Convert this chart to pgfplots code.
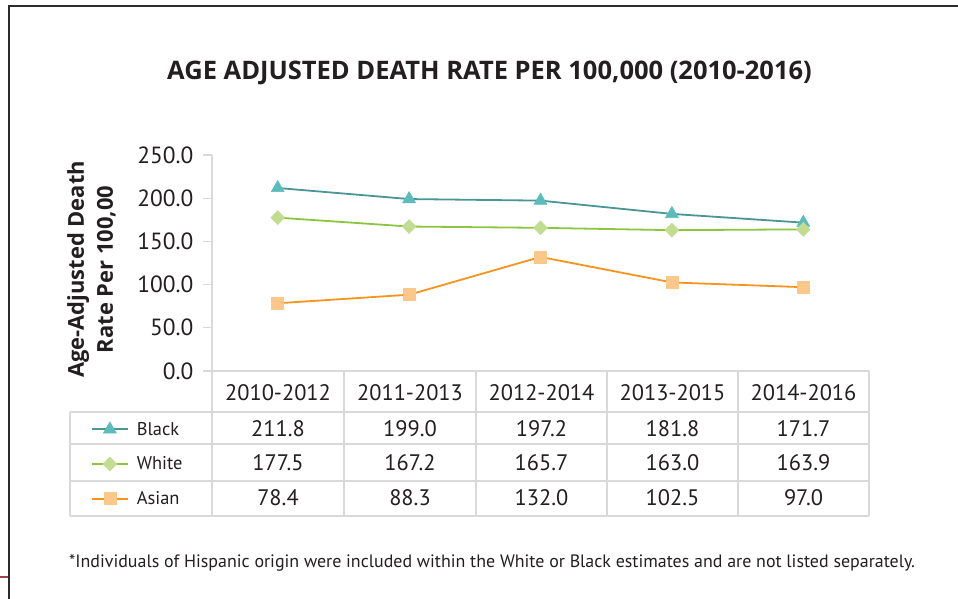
\documentclass[border=0pt]{standalone}
\usepackage{pgfplots}
\pgfplotsset{compat=1.18}
\usepackage{fontspec}
\setmainfont{PT Sans}
\newfontfamily\boldfont{Open Sans}[BoldFont={* Bold}]
\definecolor{tealL}{HTML}{4A9595}
\definecolor{tealM}{HTML}{5BBCBC}
\definecolor{greenL}{HTML}{8CC63F}
\definecolor{greenM}{HTML}{C2DD90}
\definecolor{orL}{HTML}{F7941D}
\definecolor{orM}{HTML}{FBC88A}
\definecolor{gridc}{HTML}{D9D9D9}
\definecolor{txt}{HTML}{231F20}
\definecolor{framec}{HTML}{2B2B2B}
\definecolor{redc}{HTML}{A0404A}
\begin{document}
\begin{tikzpicture}[x=1bp,y=1bp]
\useasboundingbox (0,0) rectangle (958,599);
\fill[white] (0,0) rectangle (958,599);
\draw[line width=2.5bp, framec] (9,-2) -- (9,593) -- (962,593);
\draw[line width=1.2bp, redc] (0,22) -- (8,22);
\node[font=\boldfont\bfseries\fontsize{25.6}{30}\selectfont, text=txt] at (489.5,526) {AGE ADJUSTED DEATH RATE PER 100,000 (2010-2016)};
\begin{axis}[
  at={(212bp,228bp)}, anchor=south west,
  scale only axis, width=657bp, height=216bp,
  xmin=-0.5, xmax=4.5, ymin=0, ymax=250,
  axis lines=left, axis line style={-, draw=gridc, line width=1.2bp},
  xtick=\empty,
  ytick={0,50,...,250},
  tick align=outside, major tick length=9bp,
  ytick style={draw=gridc, line width=1.2bp},
  /pgf/number format/assume math mode=true,
  yticklabel style={font=\fontsize{23.5}{26}\selectfont, text=txt, xshift=-6bp, /pgf/number format/fixed, /pgf/number format/fixed zerofill, /pgf/number format/precision=1},
  ylabel={Age-Adjusted Death\\Rate Per 100,00},
  every axis y label/.style={at={(axis description cs:-0.1834,0.4699)}, rotate=90, anchor=center, align=center, font=\boldfont\bfseries\fontsize{22}{29}\selectfont, text=txt},
  clip=false,
  legend image code/.code={\draw[mark repeat=2,mark phase=2,#1] plot coordinates {(0bp,0bp) (18bp,0bp) (36bp,0bp)};},
  legend style={at={(axis description cs:-0.1842,-0.1898)}, anchor=north west, draw=none, fill=none, inner sep=0pt, outer sep=0pt, row sep=0pt, column sep=8bp, nodes={inner sep=0pt, minimum height=34.7bp, font=\fontsize{18.5}{22}\selectfont, text=txt}},
  legend cell align=left,
]
\addplot[color=tealL, line width=1.8bp, mark=triangle*, mark size=7.5bp, mark options={fill=tealM, draw=tealM, line width=0.5bp}] coordinates {(0,211.8) (1,199.0) (2,197.2) (3,181.8) (4,171.7)};
\addlegendentry{Black}
\addplot[color=greenL, line width=1.8bp, mark=diamond*, mark size=7bp, mark options={fill=greenM, draw=greenM, line width=0.5bp, xscale=1.3}] coordinates {(0,177.5) (1,167.2) (2,165.7) (3,163.0) (4,163.9)};
\addlegendentry{White}
\addplot[color=orL, line width=1.8bp, mark=square*, mark size=6bp, mark options={fill=orM, draw=orM, line width=0.5bp}] coordinates {(0,78.4) (1,88.3) (2,132.0) (3,102.5) (4,97.0)};
\addlegendentry{Asian}
\end{axis}
% data table grid
\begin{scope}[draw=gridc, line width=1.2bp]
\draw (70,187) -- (869,187);
\draw (70,155) -- (869,155);
\draw (70,118) -- (869,118);
\draw (70,83) -- (869,83);
\draw (70,187) -- (70,83);
\foreach \x in {212,344,476,607,738,869} \draw (\x,228) -- (\x,83);
\end{scope}
\begin{scope}[font=\fontsize{22.5}{24}\selectfont, text=txt]
\foreach \x/\t in {278/2010-2012,410/2011-2013,541.5/2012-2014,672.5/2013-2015,803.5/2014-2016} \node at (\x,206) {\t};
\foreach \x/\t in {278/211.8,410/199.0,541.5/197.2,672.5/181.8,803.5/171.7} \node at (\x,170) {\t};
\foreach \x/\t in {278/177.5,410/167.2,541.5/165.7,672.5/163.0,803.5/163.9} \node at (\x,136) {\t};
\foreach \x/\t in {278/78.4,410/88.3,541.5/132.0,672.5/102.5,803.5/97.0} \node at (\x,101) {\t};
\end{scope}
\node[font=\fontsize{18}{20}\selectfont, text=txt] at (492,36) {*Individuals of Hispanic origin were included within the White or Black estimates and are not listed separately.};
\end{tikzpicture}
\end{document}
